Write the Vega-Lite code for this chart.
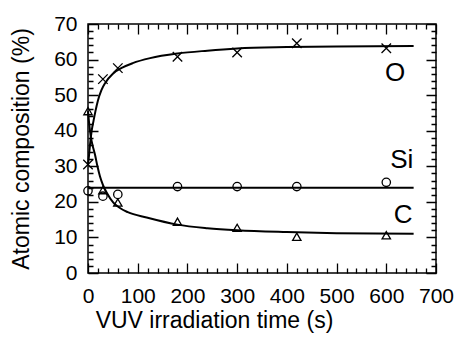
{
  "$schema": "https://vega.github.io/schema/vega-lite/v6.json",
  "width": 348,
  "height": 249,
  "autosize": "none",
  "padding": {"left": 88, "top": 24, "right": 22, "bottom": 67},
  "config": {
    "view": {"stroke": "black", "strokeWidth": 1.5},
    "font": "Liberation Sans",
    "axis": {
      "domainColor": "black",
      "tickColor": "black",
      "labelColor": "black",
      "titleColor": "black",
      "labelFont": "Liberation Sans",
      "titleFont": "Liberation Sans",
      "labelFontSize": 21,
      "titleFontSize": 23,
      "titleFontWeight": "normal",
      "domainWidth": 1.5,
      "gridColor": "black",
      "gridOpacity": 1,
      "gridWidth": 1.3,
      "labelOverlap": false,
      "labelFlush": false
    }
  },
  "resolve": {"scale": {"x": "independent", "y": "independent"}, "axis": {"x": "independent", "y": "independent"}},
  "layer": [
    {
      "data": {"values": [
        {"s": "O", "t": 0, "v": 30.5}, {"s": "O", "t": 2, "v": 33}, {"s": "O", "t": 4, "v": 36}, {"s": "O", "t": 6, "v": 38.5},
        {"s": "O", "t": 8, "v": 40.5}, {"s": "O", "t": 11, "v": 42.7}, {"s": "O", "t": 15, "v": 45.5}, {"s": "O", "t": 20, "v": 48.5},
        {"s": "O", "t": 27, "v": 51.4}, {"s": "O", "t": 35, "v": 53.5}, {"s": "O", "t": 50, "v": 56}, {"s": "O", "t": 70, "v": 57.8},
        {"s": "O", "t": 90, "v": 59}, {"s": "O", "t": 125, "v": 60.4}, {"s": "O", "t": 180, "v": 61.7}, {"s": "O", "t": 240, "v": 62.5},
        {"s": "O", "t": 300, "v": 63.1}, {"s": "O", "t": 400, "v": 63.5}, {"s": "O", "t": 500, "v": 63.7}, {"s": "O", "t": 655, "v": 63.8},
        {"s": "C", "t": 0, "v": 45.5}, {"s": "C", "t": 2, "v": 42.5}, {"s": "C", "t": 4, "v": 40}, {"s": "C", "t": 6, "v": 38},
        {"s": "C", "t": 9, "v": 36}, {"s": "C", "t": 14, "v": 33.3}, {"s": "C", "t": 19, "v": 30}, {"s": "C", "t": 24, "v": 27.2},
        {"s": "C", "t": 30, "v": 24.8}, {"s": "C", "t": 38, "v": 22.5}, {"s": "C", "t": 51, "v": 19.8}, {"s": "C", "t": 65, "v": 18.2},
        {"s": "C", "t": 80, "v": 17.1}, {"s": "C", "t": 118, "v": 15.6}, {"s": "C", "t": 180, "v": 13.6}, {"s": "C", "t": 240, "v": 12.6},
        {"s": "C", "t": 300, "v": 12}, {"s": "C", "t": 400, "v": 11.5}, {"s": "C", "t": 500, "v": 11.2}, {"s": "C", "t": 655, "v": 11}
      ]},
      "mark": {"type": "line", "interpolate": "monotone", "color": "black", "strokeWidth": 2},
      "encoding": {
        "x": {"field": "t", "type": "quantitative", "scale": {"domain": [0, 700], "nice": false},
          "axis": {"orient": "bottom", "title": "VUV irradiation time (s)", "domain": false, "ticks": false, "grid": true,
            "values": [0, 20, 40, 60, 80, 100, 120, 140, 160, 180, 200, 220, 240, 260, 280, 300, 320, 340, 360, 380, 400, 420, 440, 460, 480, 500, 520, 540, 560, 580, 600, 620, 640, 660, 680, 700],
            "labelExpr": "datum.value % 100 === 0 ? datum.label : ''",
            "gridDash": {"condition": {"test": "datum.value % 100 === 0", "value": [10, 229]}, "value": [5, 239]},
            "labelPadding": 12, "titleX": 126, "titlePadding": 3}},
        "y": {"field": "v", "type": "quantitative", "scale": {"domain": [0, 70], "nice": false},
          "axis": {"orient": "left", "title": "Atomic composition (%)", "domain": false, "ticks": false, "grid": true,
            "values": [0, 2, 4, 6, 8, 10, 12, 14, 16, 18, 20, 22, 24, 26, 28, 30, 32, 34, 36, 38, 40, 42, 44, 46, 48, 50, 52, 54, 56, 58, 60, 62, 64, 66, 68, 70],
            "labelExpr": "datum.value % 10 === 0 ? datum.label : ''",
            "gridDash": {"condition": {"test": "datum.value % 10 === 0", "value": [10, 328]}, "value": [5, 338]},
            "labelPadding": 11, "titlePadding": 20}},
        "detail": {"field": "s"}
      }
    },
    {
      "data": {"values": [{"s": "Si", "t": 0, "v": 24}, {"s": "Si", "t": 655, "v": 24}]},
      "mark": {"type": "line", "color": "black", "strokeWidth": 2},
      "encoding": {
        "x": {"field": "t", "type": "quantitative", "scale": {"domain": [0, 700], "nice": false}, "axis": null},
        "y": {"field": "v", "type": "quantitative", "scale": {"domain": [0, 70], "nice": false}, "axis": null}
      }
    },
    {
      "data": {"values": [
        {"s": "Si", "t": 0, "v": 23.1}, {"s": "Si", "t": 30, "v": 21.6}, {"s": "Si", "t": 60, "v": 22.1}, {"s": "Si", "t": 180, "v": 24.3},
        {"s": "Si", "t": 300, "v": 24.3}, {"s": "Si", "t": 420, "v": 24.3}, {"s": "Si", "t": 600, "v": 25.5},
        {"s": "C", "t": 0, "v": 45.5}, {"s": "C", "t": 30, "v": 23.3}, {"s": "C", "t": 60, "v": 19.8}, {"s": "C", "t": 180, "v": 14.4},
        {"s": "C", "t": 300, "v": 12.7}, {"s": "C", "t": 420, "v": 10.2}, {"s": "C", "t": 600, "v": 10.6}
      ]},
      "mark": {"type": "point", "filled": false, "stroke": "black", "strokeWidth": 1.3, "size": 70, "opacity": 1},
      "encoding": {
        "x": {"field": "t", "type": "quantitative", "scale": {"domain": [0, 700], "nice": false}, "axis": null},
        "y": {"field": "v", "type": "quantitative", "scale": {"domain": [0, 70], "nice": false}, "axis": null},
        "shape": {"field": "s", "type": "nominal", "scale": {"domain": ["Si", "C"], "range": ["circle", "triangle-up"]}, "legend": null}
      }
    },
    {
      "data": {"values": [
        {"label": "O", "t": 618, "v": 56.2},
        {"label": "Si", "t": 631, "v": 31.7},
        {"label": "C", "t": 634, "v": 16.2}
      ]},
      "mark": {"type": "text", "fontSize": 26, "font": "Liberation Sans", "color": "black", "align": "center", "baseline": "middle"},
      "encoding": {
        "x": {"field": "t", "type": "quantitative", "scale": {"domain": [0, 700], "nice": false}, "axis": null},
        "y": {"field": "v", "type": "quantitative", "scale": {"domain": [0, 70], "nice": false}, "axis": null},
        "text": {"field": "label"}
      }
    },
    {
      "data": {"values": [
        {"s": "O", "t": 0, "v": 30.5}, {"s": "O", "t": 30, "v": 54.5}, {"s": "O", "t": 60, "v": 57.6}, {"s": "O", "t": 180, "v": 60.8},
        {"s": "O", "t": 300, "v": 62.0}, {"s": "O", "t": 420, "v": 64.6}, {"s": "O", "t": 600, "v": 63.2}
      ]},
      "mark": {"type": "point", "shape": "M-1,-1L1,1M1,-1L-1,1", "filled": false, "stroke": "black", "strokeWidth": 1.3, "size": 90, "opacity": 1},
      "encoding": {
        "x": {"field": "t", "type": "quantitative", "scale": {"domain": [0, 700], "nice": false}, "axis": null},
        "y": {"field": "v", "type": "quantitative", "scale": {"domain": [0, 70], "nice": false}, "axis": null}
      }
    }
  ]
}
